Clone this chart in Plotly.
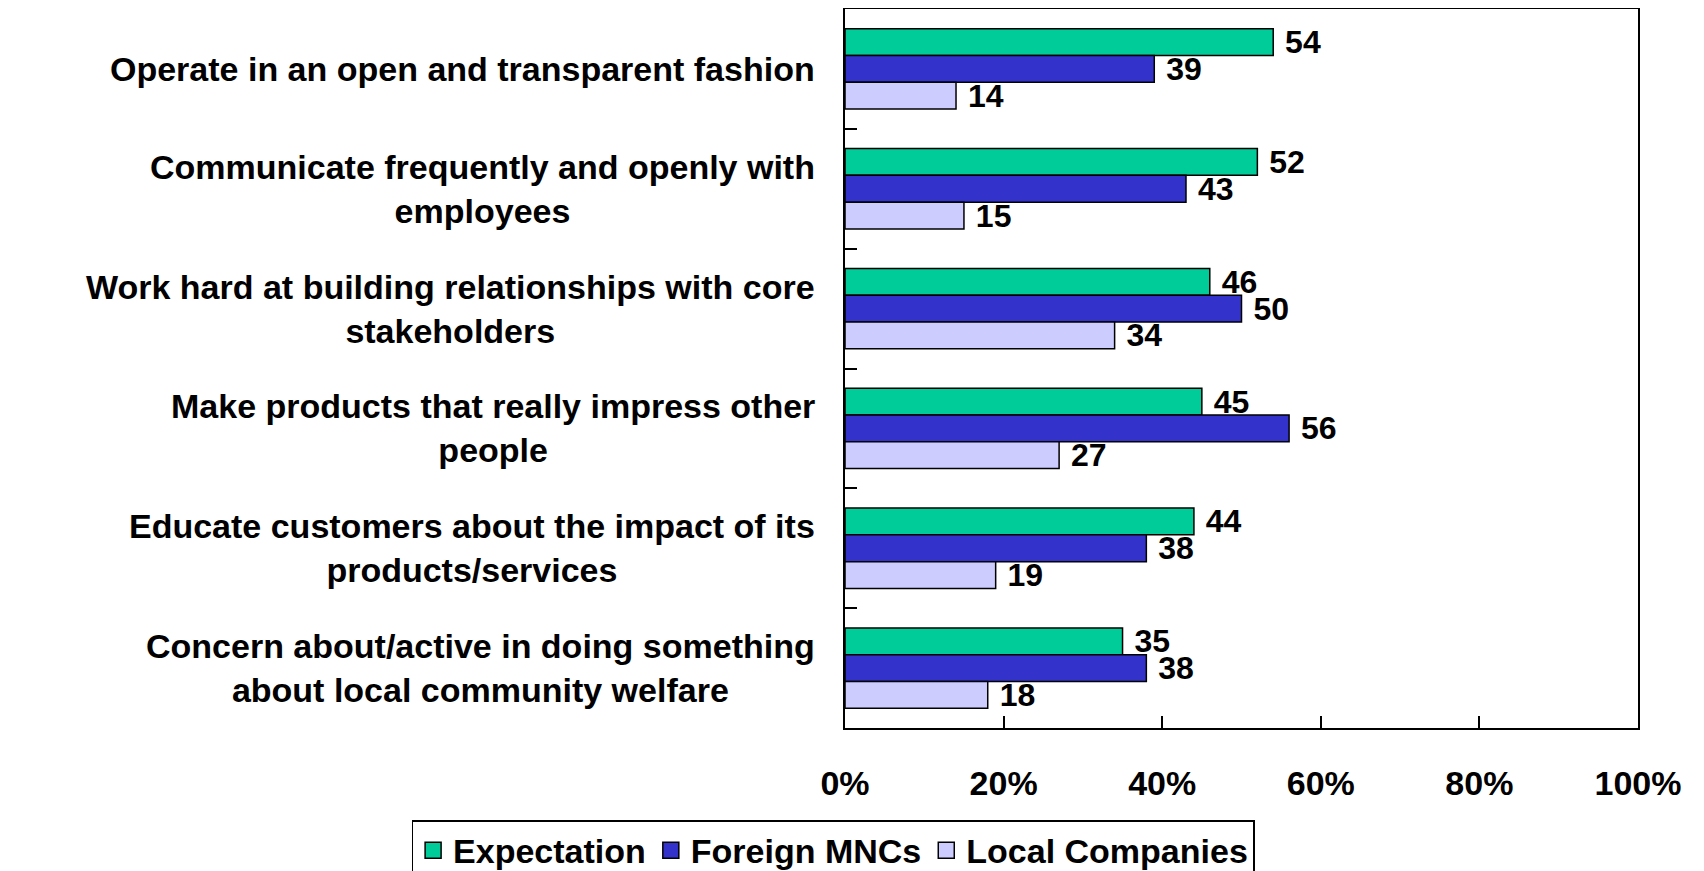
import plotly.graph_objects as go

categories = [
    "Operate in an open and transparent fashion",
    "Communicate frequently and openly with<br>employees",
    "Work hard at building relationships with core<br>stakeholders",
    "Make products that really impress other<br>people",
    "Educate customers about the impact of its<br>products/services",
    "Concern about/active in doing something<br>about local community welfare",
]
expectation = [54, 52, 46, 45, 44, 35]
foreign_mncs = [39, 43, 50, 56, 38, 38]
local_companies = [14, 15, 34, 27, 19, 18]

font_name = "Liberation Sans"
label_font = dict(family=font_name, size=34, color="black", weight="bold")
value_font = dict(family=font_name, size=32, color="black", weight="bold")

fig = go.Figure()
series = [
    ("Expectation", expectation, "#00CC99"),
    ("Foreign MNCs", foreign_mncs, "#3333CC"),
    ("Local Companies", local_companies, "#CCCCFF"),
]
for name, vals, color in series:
    fig.add_trace(go.Bar(
        y=categories, x=vals, name=name, orientation="h",
        marker=dict(color=color, line=dict(color="black", width=1.5)),
        text=vals, texttemplate=" %{text}", textposition="outside",
        textfont=value_font, constraintext="none", cliponaxis=False,
        showlegend=False,
    ))
# legend entries with larger square swatches
for name, vals, color in series:
    fig.add_trace(go.Scatter(
        x=[None], y=[None], mode="markers", name=name,
        marker=dict(symbol="square", size=18, color=color,
                    line=dict(color="black", width=1.5)),
    ))

# category labels as annotations so multi-line text is centred
for c in categories:
    fig.add_annotation(
        x=-0.035, xref="paper", y=c, yref="y", text=c,
        showarrow=False, xanchor="right", align="center",
        font=label_font,
    )

# page body adds an 8px margin, so the figure is 8px smaller each way
fig.update_layout(
    width=1696, height=863,
    margin=dict(l=837, r=66, t=1, b=143, autoexpand=False),
    plot_bgcolor="white", paper_bgcolor="white",
    font=dict(family=font_name, size=34, color="black", weight="bold"),
    barmode="group", bargap=0.33, bargroupgap=0,
    showlegend=True,
    legend=dict(
        orientation="h", x=-0.015, xanchor="center",
        yref="container", y=0.059, yanchor="top",
        bordercolor="black", borderwidth=1.5, font=label_font,
        traceorder="normal", itemsizing="trace", itemwidth=30,
    ),
)
fig.update_xaxes(
    range=[0, 100], dtick=20, ticksuffix="%", showgrid=False,
    showline=True, linecolor="black", linewidth=2, mirror=True,
    ticks="inside", ticklen=12, tickcolor="black", tickwidth=1.5,
    ticklabelstandoff=24, tickfont=label_font, zeroline=False,
)
fig.update_yaxes(
    autorange="reversed", showticklabels=False, showgrid=False,
    showline=True, linecolor="black", linewidth=2, mirror=True,
    ticks="inside", ticklen=12, tickcolor="black", tickwidth=1.5,
    tickson="boundaries",
)

fig.write_html("out.html")
